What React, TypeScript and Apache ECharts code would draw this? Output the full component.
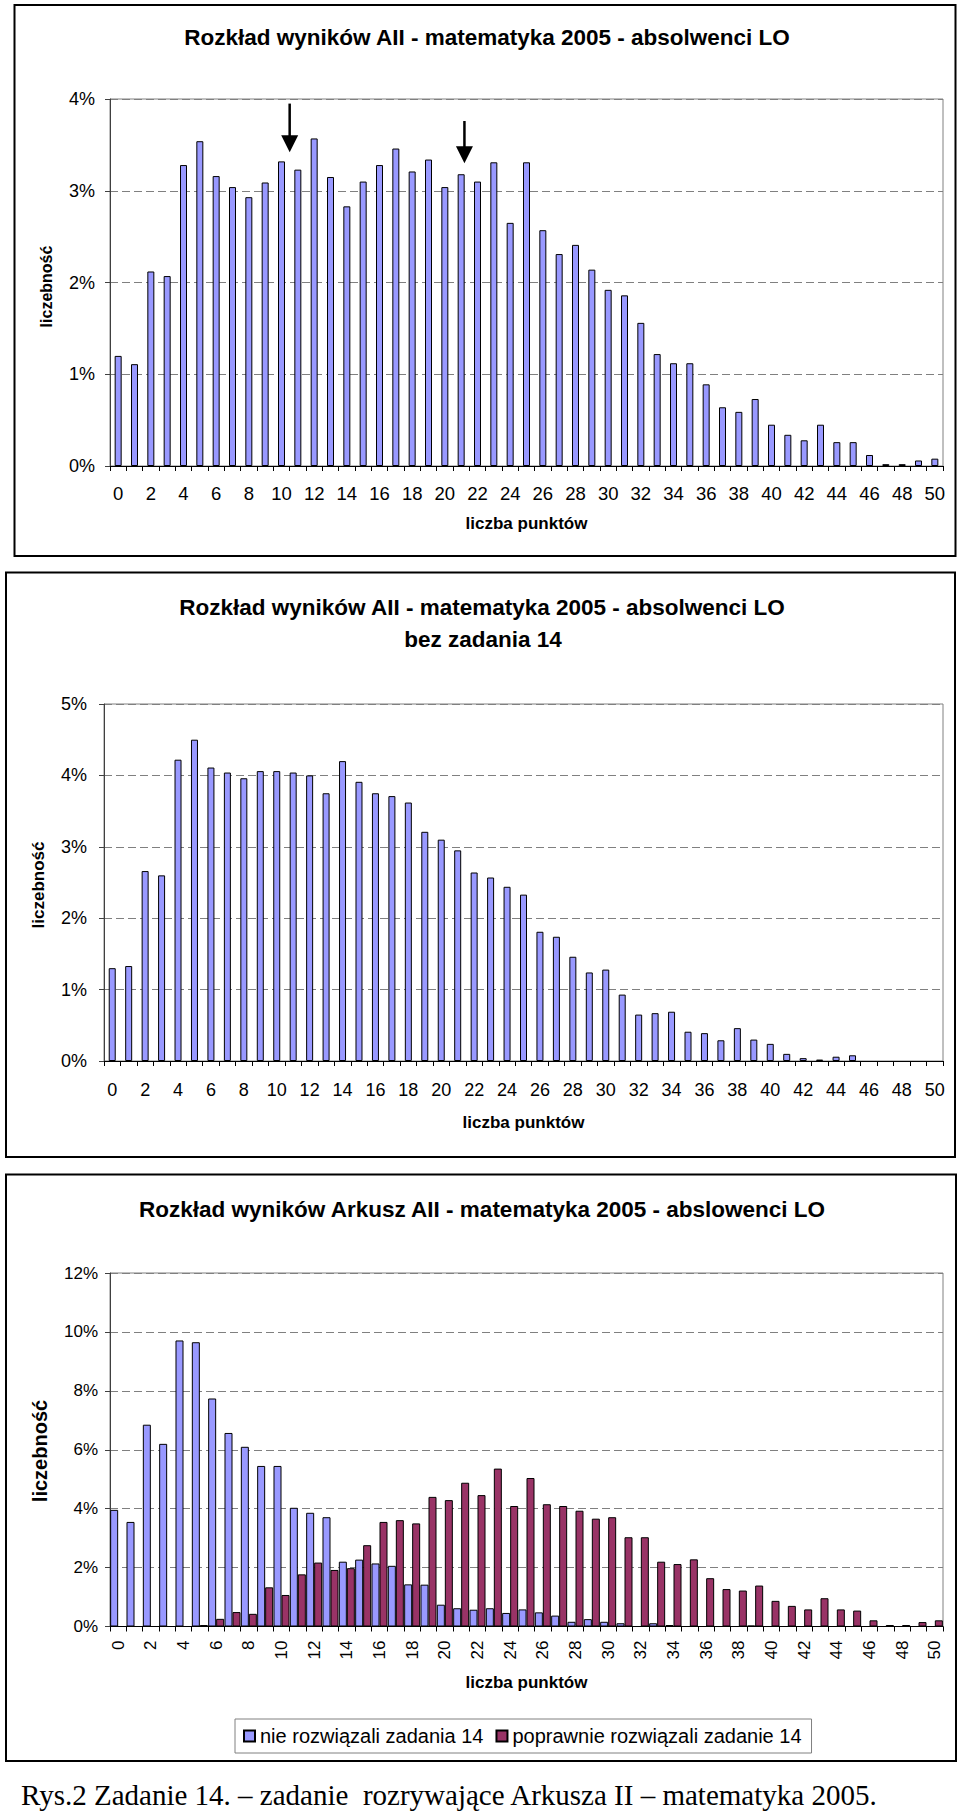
import React, { useEffect, useRef } from "react";
import * as echarts from "echarts";

// ---------- DATA ----------
const points = [
  "0", "1", "2", "3", "4", "5", "6", "7", "8", "9", "10", "11", "12", "13", "14", "15", "16",
  "17", "18", "19", "20", "21", "22", "23", "24", "25", "26", "27", "28", "29", "30", "31", "32",
  "33", "34", "35", "36", "37", "38", "39", "40", "41", "42", "43", "44", "45", "46", "47", "48",
  "49", "50",
];

// Chart 1: Rozkład wyników AII - absolwenci LO (%)
const allResults = [
  1.2, 1.11, 2.12, 2.07, 3.28, 3.54, 3.16, 3.04, 2.93, 3.09, 3.32, 3.23, 3.57, 3.15, 2.83, 3.1, 3.28,
  3.46, 3.21, 3.34, 3.04, 3.18, 3.1, 3.31, 2.65, 3.31, 2.57, 2.31, 2.41, 2.14, 1.92, 1.86, 1.56,
  1.22, 1.12, 1.12, 0.89, 0.64, 0.59, 0.73, 0.45, 0.34, 0.28, 0.45, 0.26, 0.26, 0.12, 0.02, 0.02,
  0.06, 0.08,
];

// Chart 2: bez zadania 14 (%)
const withoutTask14 = [
  1.3, 1.33, 2.66, 2.6, 4.22, 4.5, 4.11, 4.04, 3.96, 4.06, 4.06, 4.04, 4.0, 3.75, 4.2, 3.91, 3.75,
  3.71, 3.62, 3.21, 3.1, 2.95, 2.64, 2.57, 2.44, 2.33, 1.81, 1.74, 1.46, 1.24, 1.28, 0.93, 0.65,
  0.67, 0.69, 0.41, 0.39, 0.29, 0.46, 0.3, 0.24, 0.1, 0.04, 0.02, 0.06, 0.08, 0, 0, 0, 0, 0,
];

// Chart 3: two groups (%)
const notSolved = [
  3.96, 3.55, 6.85, 6.2, 9.71, 9.65, 7.74, 6.57, 6.1, 5.45, 5.45, 4.03, 3.86, 3.71, 2.2, 2.27, 2.14,
  2.06, 1.43, 1.42, 0.74, 0.62, 0.57, 0.62, 0.46, 0.58, 0.48, 0.37, 0.16, 0.25, 0.16, 0.11, 0,
  0.11, 0.05, 0, 0, 0, 0, 0.03, 0, 0, 0, 0, 0, 0, 0, 0, 0, 0, 0,
];
const solvedCorrectly = [
  0, 0, 0, 0, 0, 0.05, 0.26, 0.49, 0.43, 1.33, 1.07, 1.77, 2.17, 1.92, 1.98, 2.76, 3.55, 3.61,
  3.5, 4.4, 4.29, 4.88, 4.46, 5.36, 4.09, 5.04, 4.15, 4.09, 3.93, 3.66, 3.71, 3.03, 3.03, 2.2,
  2.12, 2.28, 1.64, 1.27, 1.22, 1.39, 0.87, 0.7, 0.58, 0.96, 0.58, 0.54, 0.21, 0.05, 0.05, 0.15,
  0.21,
];

const seriesNames = ["nie rozwiązali zadania 14", "poprawnie rozwiązali zadanie 14"];

// Arrow annotations on chart 1 (category position, tail value, tip value)
const arrowMarks = [
  { at: 10.5, from: 3.95, to: 3.42 },
  { at: 21.2, from: 3.76, to: 3.3 },
];

// ---------- STYLE ----------
const FONT = "'Liberation Sans', Arial, sans-serif";
const BLUE = "#9999FF";
const MAROON = "#993366";

// zero-valued bars are not drawn (no hairline border)
const bars = (arr: number[]) => arr.map((v) => (v === 0 ? "-" : v));

function xAxisCfg(gridIndex: number, fontSize: number, margin: number, rotate = 0) {
  return {
    type: "category",
    gridIndex,
    data: points,
    boundaryGap: true,
    axisLine: { show: true, lineStyle: { color: "#000", width: 1 } },
    axisTick: { show: true, interval: 0, length: 5, lineStyle: { color: "#000" } },
    axisLabel: { interval: 1, fontSize, color: "#000", fontFamily: FONT, margin, rotate },
    splitLine: { show: false },
  };
}

function yAxisCfg(gridIndex: number, max: number, interval: number, fontSize: number, margin: number) {
  return {
    type: "value",
    gridIndex,
    min: 0,
    max,
    interval,
    axisLine: { show: true, lineStyle: { color: "#404040", width: 1 } },
    axisTick: { show: true, length: 5, lineStyle: { color: "#404040" } },
    axisLabel: { formatter: "{value}%", fontSize, color: "#000", fontFamily: FONT, margin },
    splitLine: { show: true, lineStyle: { type: [8, 4], color: "#808080", width: 1 } },
  };
}

const barStyle = (color: string) => ({ color, borderColor: "#000", borderWidth: 1 });

function txt(x: number, y: number, text: string, font: string, align = "center", rotation = 0) {
  return {
    type: "text",
    x,
    y,
    rotation,
    silent: true,
    style: { text, font, fill: "#000", align, verticalAlign: "middle" },
  };
}

function frame(x: number, y: number, w: number, h: number) {
  return {
    type: "rect",
    silent: true,
    shape: { x, y, width: w, height: h },
    style: { fill: "none", stroke: "#000", lineWidth: 2 },
  };
}

export default function App() {
  const ref = useRef<HTMLDivElement>(null);

  useEffect(() => {
    if (!ref.current) return;
    const chart = echarts.init(ref.current, null, { renderer: "svg" });

    const gridBase = { show: true, borderColor: "#808080", borderWidth: 1, backgroundColor: "transparent" };

    chart.setOption({
      animation: false,
      backgroundColor: "#fff",
      textStyle: { fontFamily: FONT },
      grid: [
        { ...gridBase, left: 110, top: 99, width: 833, height: 367 },
        { ...gridBase, left: 104, top: 704, width: 839, height: 357 },
        { ...gridBase, left: 110, top: 1273, width: 833, height: 353.5 },
      ],
      xAxis: [xAxisCfg(0, 18.5, 18), xAxisCfg(1, 18, 20), xAxisCfg(2, 17, 14, 90)],
      yAxis: [yAxisCfg(0, 4, 1, 18, 15), yAxisCfg(1, 5, 1, 18, 17), yAxisCfg(2, 12, 2, 17, 12)],
      legend: {
        data: seriesNames,
        left: 235,
        top: 1719,
        orient: "horizontal",
        icon: "rect",
        itemWidth: 11,
        itemHeight: 11,
        itemGap: 12,
        padding: [7, 10, 7, 8],
        borderColor: "#808080",
        borderWidth: 1,
        backgroundColor: "#fff",
        textStyle: { fontSize: 20, color: "#000", fontFamily: FONT },
      },
      series: [
        {
          type: "bar",
          xAxisIndex: 0,
          yAxisIndex: 0,
          data: bars(allResults),
          barWidth: 7,
          itemStyle: barStyle(BLUE),
          silent: true,
        },
        {
          type: "bar",
          xAxisIndex: 1,
          yAxisIndex: 1,
          data: bars(withoutTask14),
          barWidth: 7,
          itemStyle: barStyle(BLUE),
          silent: true,
        },
        {
          name: seriesNames[0],
          type: "bar",
          xAxisIndex: 2,
          yAxisIndex: 2,
          data: bars(notSolved),
          barGap: "0%",
          barCategoryGap: "2%",
          itemStyle: barStyle(BLUE),
          silent: true,
        },
        {
          name: seriesNames[1],
          type: "bar",
          xAxisIndex: 2,
          yAxisIndex: 2,
          data: bars(solvedCorrectly),
          barGap: "0%",
          barCategoryGap: "2%",
          itemStyle: barStyle(MAROON),
          silent: true,
        },
      ],
    });

    // arrow annotations positioned through the chart's own scales
    const catPx = (c: number) => {
      const a = Math.floor(c);
      const b = Math.ceil(c);
      const pa = chart.convertToPixel({ xAxisIndex: 0 }, a) as number;
      const pb = chart.convertToPixel({ xAxisIndex: 0 }, b) as number;
      return pa + (pb - pa) * (c - a);
    };
    const valPx = (v: number) => chart.convertToPixel({ yAxisIndex: 0 }, v) as number;
    const arrowEls: any[] = [];
    arrowMarks.forEach((m) => {
      const x = catPx(m.at);
      const yTail = valPx(m.from);
      const yTip = valPx(m.to);
      const headTop = yTip - 17;
      arrowEls.push({
        type: "line",
        silent: true,
        shape: { x1: x, y1: yTail, x2: x, y2: headTop + 2 },
        style: { stroke: "#000", lineWidth: 2.5 },
      });
      arrowEls.push({
        type: "polygon",
        silent: true,
        shape: { points: [[x - 8.5, headTop], [x + 8.5, headTop], [x, yTip]] },
        style: { fill: "#000" },
      });
    });

    const B16 = `bold 16px ${FONT}`;
    const B17 = `bold 17px ${FONT}`;
    const B20 = `bold 20px ${FONT}`;
    const T22 = `bold 22.5px ${FONT}`;

    chart.setOption({
      graphic: [
        frame(14.5, 5, 941, 551),
        frame(6, 572.5, 949, 584.5),
        frame(6, 1174.5, 950, 586.5),
        txt(487, 37, "Rozkład wyników AII - matematyka 2005 - absolwenci LO", T22),
        txt(482, 607, "Rozkład wyników AII - matematyka 2005 - absolwenci LO", T22),
        txt(483, 639, "bez zadania 14", T22),
        txt(482, 1209, "Rozkład wyników Arkusz AII - matematyka 2005 - abslowenci LO", T22),
        txt(526.5, 523, "liczba punktów", B17),
        txt(523.5, 1122, "liczba punktów", B17),
        txt(526.5, 1682.5, "liczba punktów", B17),
        txt(46, 286.5, "liczebność", B16, "center", Math.PI / 2),
        txt(38, 885, "liczebność", B17, "center", Math.PI / 2),
        txt(40, 1451, "liczebność", B20, "center", Math.PI / 2),
        txt(21, 1795, "Rys.2 Zadanie 14. – zadanie  rozrywające Arkusza II – matematyka 2005.", `29px 'Liberation Serif', 'Times New Roman', serif`, "left"),
        ...arrowEls,
      ],
    });

    return () => chart.dispose();
  }, []);

  return (
    <div
      ref={ref}
      style={{ position: "absolute", left: 0, top: 0, width: 960, height: 1814, background: "#fff" }}
    />
  );
}
